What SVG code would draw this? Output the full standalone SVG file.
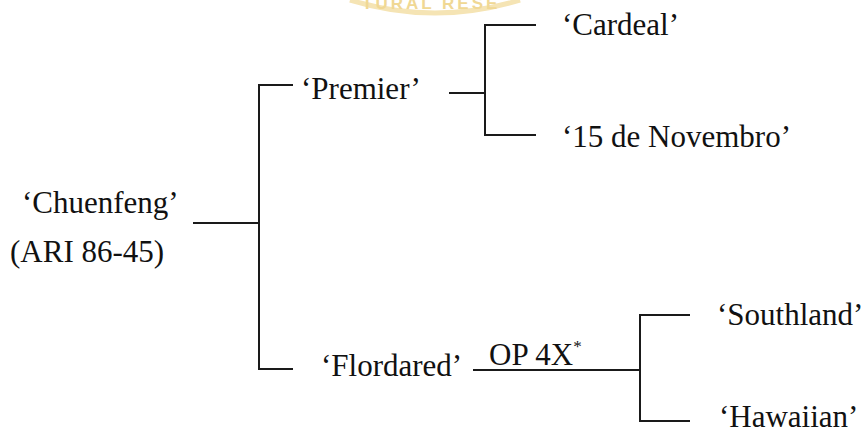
<svg xmlns="http://www.w3.org/2000/svg" width="868" height="434" viewBox="0 0 868 434">
<style>
  .t { font-family: "Liberation Serif", "Times New Roman", serif; font-size: 31px; fill: #111; }
  .ln { stroke: #1a1a1a; stroke-width: 2; fill: none; stroke-linecap: square; }
  .wm { font-family: "Liberation Sans", Arial, sans-serif; font-weight: bold; font-size: 17px; fill: #f0d894; letter-spacing: 3px; }
</style>
<rect width="868" height="434" fill="#fff"/>
<g id="watermark">
  <path d="M350,0 Q435,26 520,0" stroke="#f5e4b4" stroke-width="5" fill="none"/>
  <text class="wm" x="362" y="9">TURAL RESE</text>
</g>
<g id="connectors">
  <path class="ln" d="M194,223 H259"/>
  <path class="ln" d="M292,85 H259 V369 H292"/>
  <path class="ln" d="M450,93 H485"/>
  <path class="ln" d="M535,25 H485 V135 H535"/>
  <path class="ln" d="M474,370 H640"/>
  <path class="ln" d="M689,315 H640 V421 H689"/>
</g>
<g id="node-chuenfeng">
  <text class="t" x="22" y="213">‘Chuenfeng’</text>
  <text class="t" x="10" y="262">(ARI 86-45)</text>
</g>
<g id="node-premier">
  <text class="t" x="301" y="99">‘Premier’</text>
</g>
<g id="node-flordared">
  <text class="t" x="321" y="376">‘Flordared’</text>
</g>
<g id="label-op4x">
  <text class="t" x="489" y="365">OP 4X<tspan font-size="17" dy="-13">*</tspan></text>
</g>
<g id="node-cardeal">
  <text class="t" x="562" y="35">‘Cardeal’</text>
</g>
<g id="node-novembro">
  <text class="t" x="562" y="147">‘15 de Novembro’</text>
</g>
<g id="node-southland">
  <text class="t" x="717" y="325">‘Southland’</text>
</g>
<g id="node-hawaiian">
  <text class="t" x="719" y="427">‘Hawaiian’</text>
</g>
</svg>
